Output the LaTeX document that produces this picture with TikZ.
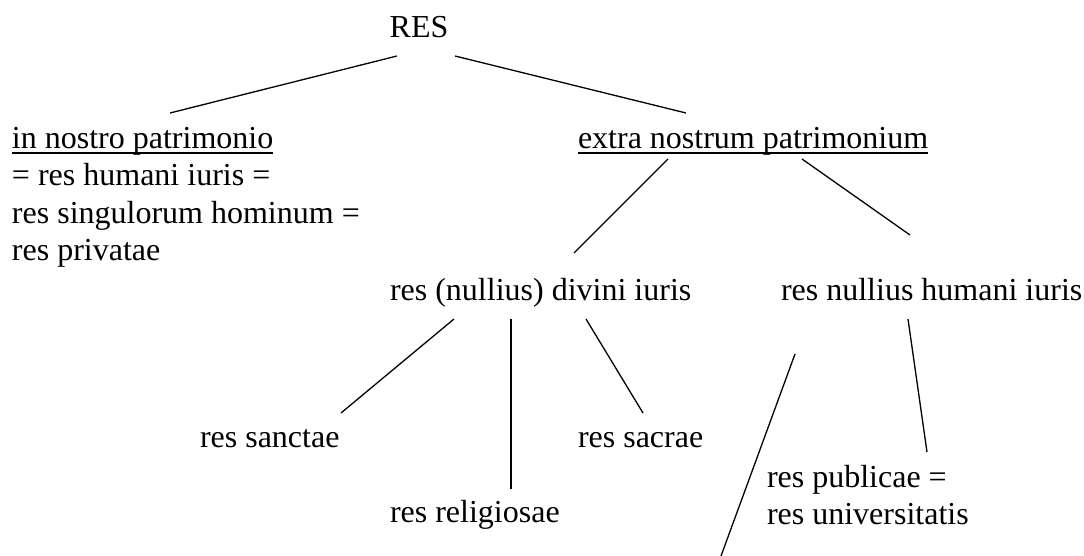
\documentclass[tikz,border=0pt]{standalone}
\usepackage{fontspec}
\setmainfont{Liberation Serif}
\def\myul#1{\setbox0\hbox{#1}\rlap{\rule[-5pt]{\wd0}{1.5pt}}\box0}
\tikzset{
  lbl/.style={inner sep=0pt, outer sep=0pt, anchor=base west, font=\fontsize{32}{36.8}\selectfont},
  edge/.style={line width=1.3pt, black}
}
\begin{document}
\begin{tikzpicture}[x=1pt,y=-1pt]
\useasboundingbox (0,0) rectangle (1084,556);
% nodes
\node[lbl, anchor=base] (res) at (419,38) {RES};
\node[lbl] (inp)  at (12,149) {\myul{in nostro patrimonio}};
\node[lbl] (inp2) at (12,186) {= res humani iuris =};
\node[lbl] (inp3) at (12,223) {res singulorum hominum =};
\node[lbl] (inp4) at (12,260) {res privatae};
\node[lbl] (extra) at (578,149) {\myul{extra nostrum patrimonium}};
\node[lbl] (divini) at (390,300) {res (nullius) divini iuris};
\node[lbl] (humani) at (781,300) {res nullius humani iuris};
\node[lbl] (sanctae) at (200,447) {res sanctae};
\node[lbl] (sacrae) at (578,447) {res sacrae};
\node[lbl] (relig) at (390,522) {res religiosae};
\node[lbl] (publ) at (767,487) {res publicae =};
\node[lbl] (univ) at (767,524) {res universitatis};
\coordinate (cA) at (795,354);
\coordinate (cB) at (721,556);
% connectors
\draw[edge] ([shift={(-22,18)}]res.base) -- ([shift={(158,-36)}]inp.base west);
\draw[edge] ([shift={(36,18)}]res.base) -- ([shift={(108,-36)}]extra.base west);
\draw[edge] ([shift={(90,10)}]extra.base west) -- ([shift={(184,-47)}]divini.base west);
\draw[edge] ([shift={(224,10)}]extra.base west) -- ([shift={(129,-65)}]humani.base west);
\draw[edge] ([shift={(64,19)}]divini.base west) -- ([shift={(141,-34)}]sanctae.base west);
\draw[edge] ([shift={(121,19)}]divini.base west) -- ([shift={(121,-33)}]relig.base west);
\draw[edge] ([shift={(196,19)}]divini.base west) -- ([shift={(65,-34)}]sacrae.base west);
\draw[edge] ([shift={(127,19)}]humani.base west) -- ([shift={(160,-35)}]publ.base west);
\draw[edge] (cA) -- (cB);
\end{tikzpicture}
\end{document}
